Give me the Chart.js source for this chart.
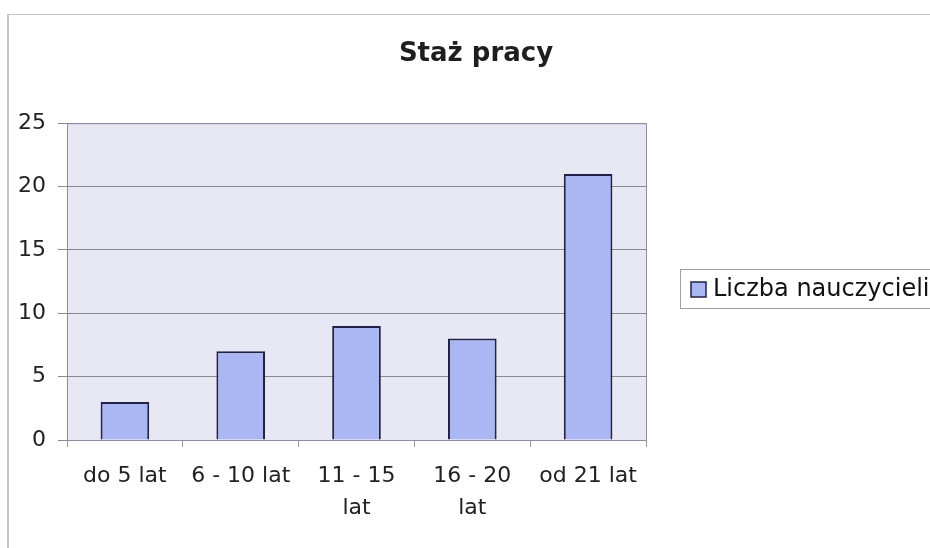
<!DOCTYPE html>
<html>
<head>
<meta charset="utf-8">
<script src="https://cdn.jsdelivr.net/npm/chart.js@4"></script>
<style>
  html, body { margin: 0; padding: 0; background: #fff; }
  #outer { position: relative; width: 930px; height: 548px; overflow: hidden; }
  #wrap { position: absolute; left: 0; top: 0; width: 930px; height: 548px; }
  #frame { position: absolute; left: 7px; top: 14px; right: -20px; bottom: -20px;
           border-left: 2px solid #c4c4c4; border-top: 1px solid #c8c8c8; pointer-events: none; }
</style>
</head>
<body>
<div id="outer">
  <div id="wrap"><canvas id="chart"></canvas></div>
  <div id="frame"></div>
</div>
<script>
// dane z wykresu
var categories = ['do 5 lat', '6 - 10 lat', ['11 - 15', 'lat'], ['16 - 20', 'lat'], 'od 21 lat'];
var values = [3, 7, 9, 8, 21];
var seriesName = 'Liczba nauczycieli';
var yMin = 0, yMax = 25, yStep = 5;

var font = 'DejaVu Sans';
var barFill = '#abb7f3';
var barLine = '#222248';

// tlo obszaru wykresu, ramka, legenda po prawej (jak w Excelu)
var excelLook = {
    id: 'excelLook',
    beforeDraw: function(chart) {
        var a = chart.chartArea, c = chart.ctx;
        c.save();
        c.fillStyle = '#e8e8f5';
        c.fillRect(a.left, a.top, a.right - a.left, a.bottom - a.top);
        c.restore();
    },
    afterDatasetsDraw: function(chart) {
        var a = chart.chartArea, c = chart.ctx;
        c.save();
        c.strokeStyle = '#8e8ea6';
        c.lineWidth = 1;
        c.strokeRect(a.left + 0.5, a.top + 0.5, a.right - a.left, a.bottom - a.top);
        c.restore();
    },
    afterLayout: function(chart) {
        // tytul przesuniety w prawo, jak w oryginale
        var t = chart.titleBlock;
        var shift = 476 - (t.left + t.right) / 2;
        t.left += shift;
        t.right += shift;
    },
    afterDraw: function(chart) {
        var a = chart.chartArea, c = chart.ctx;
        var ds = chart.data.datasets[0];
        var x0 = Math.round(a.right) + 34;
        var cy = Math.round((a.top + a.bottom) / 2) + 7;
        c.save();
        c.strokeStyle = '#a0a0a0';
        c.lineWidth = 1;
        c.strokeRect(x0 + 0.5, cy - 19.5, 300, 39);
        c.fillStyle = ds.backgroundColor;
        c.fillRect(x0 + 11, cy - 7, 15, 15);
        c.strokeStyle = ds.borderColor;
        c.lineWidth = 1.5;
        c.strokeRect(x0 + 11, cy - 7, 15, 15);
        c.fillStyle = '#111';
        c.font = '24px "' + font + '"';
        c.textBaseline = 'middle';
        c.fillText(ds.label, x0 + 33, cy + 1);
        c.restore();
    }
};

var ctx = document.getElementById('chart').getContext('2d');
var myChart = new Chart(ctx, {
    type: 'bar',
    data: {
        labels: categories,
        datasets: [{
            label: seriesName,
            data: values,
            backgroundColor: barFill,
            borderColor: barLine,
            borderWidth: 2,
            barPercentage: 0.42,
            categoryPercentage: 1
        }]
    },
    options: {
        responsive: true,
        maintainAspectRatio: false,
        animation: false,
        layout: { padding: { top: 15, left: 0, right: 284, bottom: 0 } },
        plugins: {
            title: {
                display: true,
                text: 'Staż pracy',
                color: '#1e1e1e',
                font: { family: font, size: 26, weight: 'bold' },
                padding: { top: 24, bottom: 53 }
            },
            legend: { display: false },
            tooltip: { enabled: false }
        },
        scales: {
            x: {
                afterFit: function(axis) { axis.height = 108; },
                grid: { display: true, offset: true, drawOnChartArea: false, tickLength: 7, color: '#999' },
                border: { color: '#777' },
                ticks: {
                    color: '#222',
                    padding: 13,
                    maxRotation: 0,
                    font: { family: font, size: 22, lineHeight: 1.45 }
                }
            },
            y: {
                min: yMin,
                max: yMax,
                afterFit: function(axis) { axis.width = 67; },
                grid: { color: '#8a8a8a', tickLength: 9 },
                border: { color: '#777' },
                ticks: {
                    stepSize: yStep,
                    color: '#222',
                    padding: 12,
                    font: { family: font, size: 22 }
                }
            }
        }
    },
    plugins: [excelLook]
});
</script>
</body>
</html>
